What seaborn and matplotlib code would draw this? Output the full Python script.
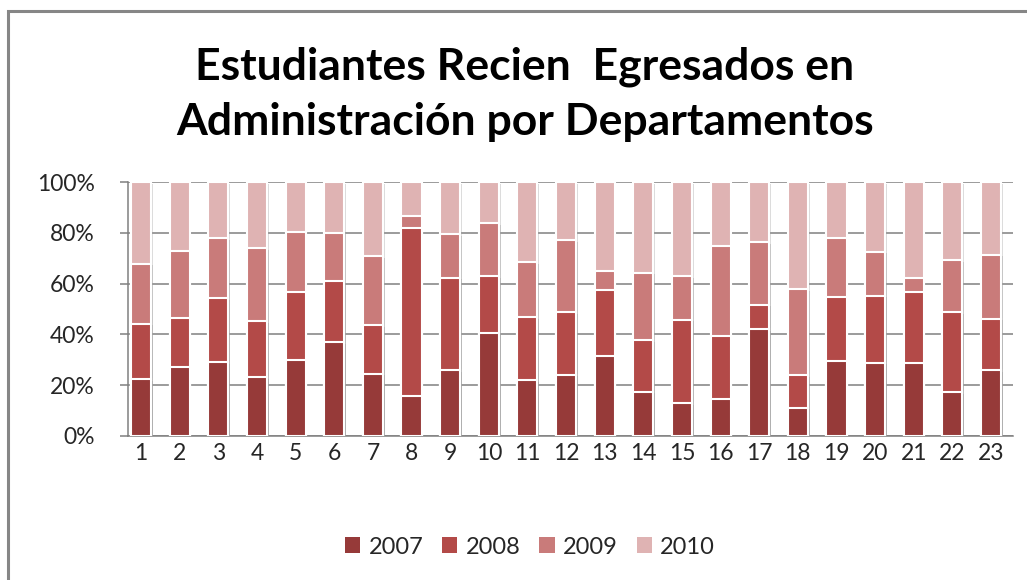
import matplotlib
matplotlib.use("Agg")
import matplotlib.pyplot as plt
import matplotlib.patheffects as pe
from matplotlib.patches import Rectangle
from matplotlib.ticker import PercentFormatter
import seaborn as sns
import pandas as pd
import numpy as np

departamentos = [str(i) for i in range(1, 24)]
years = ["2007", "2008", "2009", "2010"]
v2007 = [22.4, 27.0, 29.0, 23.0, 30.0, 36.9, 24.5, 15.8, 25.9, 40.7, 22.0, 24.1,
         31.6, 17.4, 12.8, 14.3, 42.0, 11.1, 29.4, 28.8, 28.8, 17.2, 25.8]
v2008 = [21.8, 19.3, 25.4, 22.3, 26.9, 24.1, 19.2, 66.3, 36.5, 22.2, 24.7, 24.6,
         25.8, 20.3, 33.0, 25.1, 9.7, 12.7, 25.5, 26.5, 27.9, 31.5, 20.4]
v2009 = [23.7, 26.7, 23.6, 28.8, 23.6, 19.1, 27.2, 4.5, 17.2, 20.9, 21.7, 28.4,
         7.5, 26.7, 17.1, 35.6, 24.6, 34.1, 23.1, 17.3, 5.7, 20.7, 25.2]
v2010 = [32.1, 27.0, 22.0, 25.9, 19.5, 19.9, 29.1, 13.4, 20.4, 16.2, 31.6, 22.9,
         35.1, 35.6, 37.1, 25.0, 23.7, 42.1, 22.0, 27.4, 37.6, 30.6, 28.6]
colors = ["#963A39", "#B34A48", "#C97B7A", "#DFB3B3"]

df = pd.DataFrame({"dep": departamentos, "2007": v2007, "2008": v2008,
                   "2009": v2009, "2010": v2010})
tot = df[years].sum(axis=1)
for y in years:
    df[y] = df[y] / tot * 100
cum = df[years].cumsum(axis=1)

sns.set_theme(style="white")
plt.rcParams["font.family"] = ["Lato", "DejaVu Sans"]

fig = plt.figure(figsize=(10.27, 5.8), dpi=100)
ax = fig.add_axes([128 / 1027, 1 - 435.7 / 580, (1013 - 128) / 1027, (435.7 - 182.3) / 580])

shadow = [pe.withSimplePatchShadow(offset=(1.2, -1.2), shadow_rgbFace="#999999", alpha=0.35)]
for i in range(3, -1, -1):
    sns.barplot(data=cum, x=df["dep"], y=cum[years[i]], color=colors[i], saturation=1,
                width=0.52, edgecolor="white", linewidth=1.5, ax=ax, zorder=3)

for p in ax.patches:
    p.set_path_effects(shadow)

ax.set_ylim(0, 100)
ax.set_xlim(-0.34, 22.57)
ax.set_yticks([0, 20, 40, 60, 80, 100])
ax.yaxis.set_major_formatter(PercentFormatter(100, decimals=0))
ax.grid(axis="y", color="#808080", linewidth=1.1, zorder=0)
ax.set_axisbelow(True)
ax.set_xlabel("")
ax.set_ylabel("")
for s in ["top", "right"]:
    ax.spines[s].set_visible(False)
for s in ["left", "bottom"]:
    ax.spines[s].set_color("#808080")
    ax.spines[s].set_linewidth(1.1)
ax.tick_params(axis="y", length=6, width=1.1, color="#808080", pad=18,
               labelsize=16.5, labelcolor="#262626", left=True)
ax.tick_params(axis="x", length=0, pad=5, labelsize=16.5, labelcolor="#262626")

fig.text(525 / 1027, 1 - 67 / 580, "Estudiantes Recien  Egresados en",
         ha="center", va="center", fontsize=32, fontweight="bold", color="black")
fig.text(525 / 1027, 1 - 122 / 580, "Administración por Departamentos",
         ha="center", va="center", fontsize=32, fontweight="bold", color="black")

handles = [Rectangle((0, 0), 1, 1, facecolor=c, edgecolor="none") for c in colors]
fig.legend(handles, years, loc="center", bbox_to_anchor=(530 / 1027, 1 - 547 / 580),
           ncol=4, frameon=False, fontsize=17, handlelength=0.65, handleheight=0.65,
           handletextpad=0.35, columnspacing=0.8, labelcolor="#262626")

fig.patches.append(Rectangle((8 / 1027, -0.1), 1.2, 1 - 11 / 580 + 0.1,
                             transform=fig.transFigure, fill=False,
                             edgecolor="#868686", linewidth=2.2))

fig.savefig("out.png", dpi=100)
